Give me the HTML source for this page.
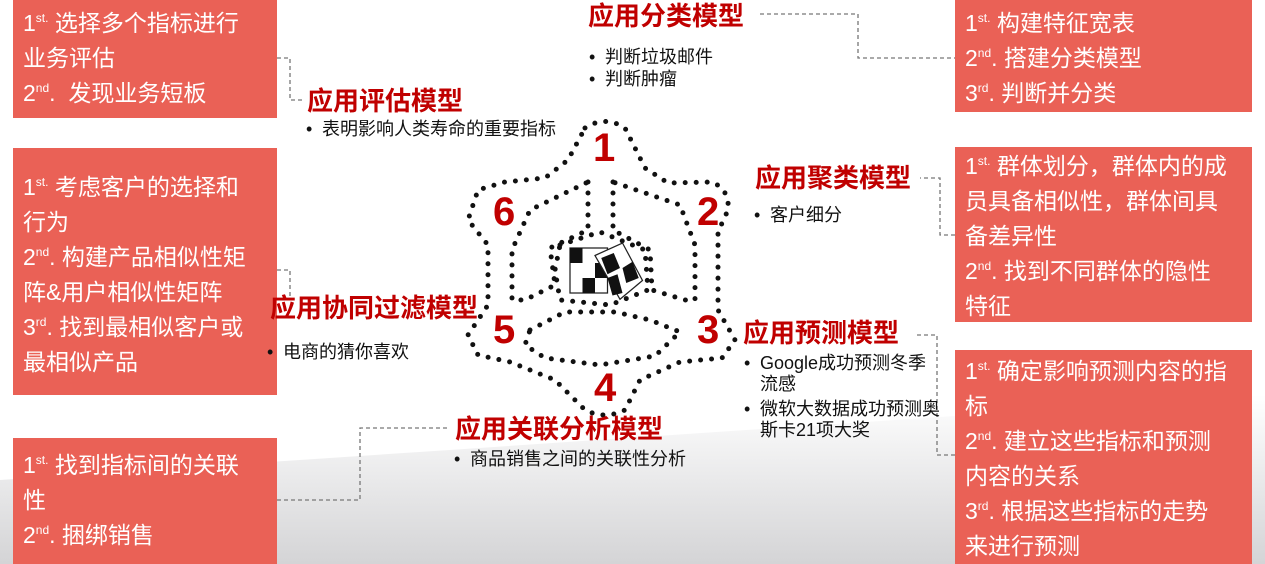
<!DOCTYPE html>
<html><head><meta charset="utf-8"><style>
body{margin:0;width:1265px;height:564px;position:relative;overflow:hidden;background:#fff;font-family:"Liberation Sans","Noto Sans CJK SC",sans-serif}
.bg{position:absolute;left:0;top:0;width:1265px;height:564px}
.box{position:absolute;background:#ea6156;color:#fff;font-size:23px;line-height:35px;padding-left:10px;box-sizing:border-box;white-space:nowrap}
.box sup{font-size:12px;vertical-align:9px;line-height:0}
.t{position:absolute;color:#c00000;font-weight:bold;font-size:26px;white-space:nowrap;line-height:30px}
.b{position:absolute;color:#111;font-size:18px;line-height:21px;white-space:nowrap}
.b:before{content:"•";position:absolute;left:-16px}
.n{position:absolute;color:#c00000;font-weight:bold;font-size:40px}
</style></head><body>
<svg class="bg" viewBox="0 0 1265 564">
<defs><linearGradient id="g" x1="0" y1="0" x2="0" y2="1"><stop offset="0" stop-color="#fff"/><stop offset="1" stop-color="#d4d4d6"/></linearGradient></defs>
<path d="M0 480 Q600 440 1265 395 L1265 564 L0 564 Z" fill="url(#g)"/>
<g fill="none" stroke="#777" stroke-width="1.3" stroke-dasharray="4 3">
<path d="M760 14 H858 V58 H955"/>
<path d="M277 58 H290 V100 H305"/>
<path d="M277 270 H290 V300"/>
<path d="M277 500 H360 V428 H448"/>
<path d="M955 235 H940 V178 H920"/>
<path d="M955 455 H937 V335 H915"/>
</g>
<g fill="none" stroke="#111" stroke-width="5" stroke-linecap="round" stroke-dasharray="0 11">
<path d="M585 128 Q605 115 625 128 L645 168 L668 183 L712 182 Q730 190 728 210 L718 232 L718 310 L735 340 L722 358 L680 362 L640 380 L625 410 Q605 420 585 410 L555 380 L510 362 L478 355 L468 335 L488 305 L488 245 L468 220 L478 190 L505 182 L545 178 L568 160 Z"/>
<path d="M588 182 L588 230 L550 248 L555 285 L525 300 L512 300 L512 250 L530 210 Z"/>
<path d="M613 182 L613 230 L650 250 L652 290 L685 300 L695 300 L695 245 L680 205 Z"/>
<path d="M530 330 L565 312 L615 312 L650 320 L680 332 L655 356 L600 365 L545 358 L525 345 Z"/>
<path d="M560 245 L600 232 L645 250 L648 290 L610 305 L560 300 L555 270 Z"/>
</g>
<g transform="translate(570,243) scale(1.25)">
<rect x="0" y="4" width="30" height="36" fill="#fff" stroke="#222"/>
<rect x="0" y="4" width="10" height="12" fill="#111"/><rect x="20" y="16" width="10" height="12" fill="#111"/><rect x="10" y="28" width="10" height="12" fill="#111"/>
<path d="M20 10 L42 0 L58 30 L40 45 Z" fill="#fff" stroke="#222"/>
<path d="M25 12 L35 8 L40 20 L30 25 Z M42 20 L50 15 L55 28 L45 32Z M30 28 L38 25 L42 40 L34 42Z" fill="#111"/>
</g>
</svg>
<div class="box" style="left:13px;top:0;width:264px;height:118px;padding-top:6px">1<sup>st.</sup> 选择多个指标进行<br>业务评估<br>2<sup>nd</sup>.&nbsp; 发现业务短板</div>
<div class="box" style="left:13px;top:148px;width:264px;height:247px;padding-top:22px">1<sup>st.</sup> 考虑客户的选择和<br>行为<br>2<sup>nd</sup>. 构建产品相似性矩<br>阵&amp;用户相似性矩阵<br>3<sup>rd</sup>. 找到最相似客户或<br>最相似产品</div>
<div class="box" style="left:13px;top:438px;width:264px;height:126px;padding-top:10px">1<sup>st.</sup> 找到指标间的关联<br>性<br>2<sup>nd</sup>. 捆绑销售</div>
<div class="box" style="left:955px;top:0;width:297px;height:112px;padding-top:6px">1<sup>st.</sup> 构建特征宽表<br>2<sup>nd</sup>. 搭建分类模型<br>3<sup>rd</sup>. 判断并分类</div>
<div class="box" style="left:955px;top:147px;width:297px;height:175px;padding-top:2px">1<sup>st.</sup> 群体划分，群体内的成<br>员具备相似性，群体间具<br>备差异性<br>2<sup>nd</sup>. 找到不同群体的隐性<br>特征</div>
<div class="box" style="left:955px;top:350px;width:297px;height:214px;padding-top:4px">1<sup>st.</sup> 确定影响预测内容的指<br>标<br>2<sup>nd</sup>. 建立这些指标和预测<br>内容的关系<br>3<sup>rd</sup>. 根据这些指标的走势<br>来进行预测</div>
<div class="t" style="left:588px;top:1px">应用分类模型</div>
<div class="b" style="left:605px;top:47px">判断垃圾邮件</div>
<div class="b" style="left:605px;top:69px">判断肿瘤</div>
<div class="t" style="left:307px;top:86px">应用评估模型</div>
<div class="b" style="left:322px;top:119px">表明影响人类寿命的重要指标</div>
<div class="t" style="left:755px;top:163px">应用聚类模型</div>
<div class="b" style="left:770px;top:205px">客户细分</div>
<div class="t" style="left:270px;top:293px">应用协同过滤模型</div>
<div class="b" style="left:283px;top:342px">电商的猜你喜欢</div>
<div class="t" style="left:743px;top:318px">应用预测模型</div>
<div class="b" style="left:760px;top:353px">Google成功预测冬季<br>流感</div>
<div class="b" style="left:760px;top:399px">微软大数据成功预测奥<br>斯卡21项大奖</div>
<div class="t" style="left:455px;top:414px">应用关联分析模型</div>
<div class="b" style="left:470px;top:449px">商品销售之间的关联性分析</div>
<div class="n" style="left:593px;top:126px">1</div>
<div class="n" style="left:697px;top:190px">2</div>
<div class="n" style="left:697px;top:308px">3</div>
<div class="n" style="left:594px;top:366px">4</div>
<div class="n" style="left:493px;top:308px">5</div>
<div class="n" style="left:493px;top:190px">6</div>
</body></html>
